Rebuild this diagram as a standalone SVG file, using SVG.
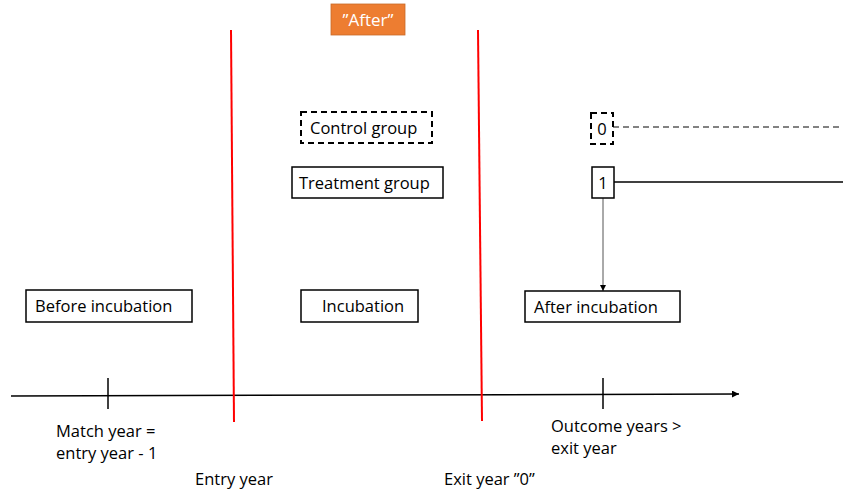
<svg xmlns="http://www.w3.org/2000/svg" width="843" height="496" viewBox="0 0 843 496">
<defs>
<style>
text{font-family:"Open Sans","Noto Sans","Liberation Sans",sans-serif;font-size:16.5px;fill:#000}
.box{fill:#fff;stroke:#000;stroke-width:1.5}
.dash{fill:#fff;stroke:#000;stroke-width:2;stroke-dasharray:6,4}
.red{stroke:#ff0000;stroke-width:2;fill:none}
</style>
<marker id="ah" viewBox="0 0 10 10" refX="10" refY="5" markerWidth="6" markerHeight="6" orient="auto" markerUnits="userSpaceOnUse"><path d="M0,0L10,5L0,10z" fill="#000"/></marker>
<marker id="ah2" viewBox="0 0 10 10" refX="10" refY="5" markerWidth="7" markerHeight="7" orient="auto" markerUnits="userSpaceOnUse"><path d="M0,0L10,5L0,10z" fill="#000"/></marker>
</defs>
<rect width="843" height="496" fill="#fff"/>
<g id="connectors">
<line x1="11" y1="396" x2="739" y2="394" stroke="#000" stroke-width="1.5" marker-end="url(#ah2)"/>
<line x1="108" y1="378" x2="108" y2="409" stroke="#000" stroke-width="1.5"/>
<line x1="603" y1="378" x2="603" y2="409" stroke="#000" stroke-width="1.5"/>
<line class="red" x1="231" y1="30" x2="234" y2="422"/>
<line class="red" x1="478" y1="30" x2="482" y2="421"/>
<line x1="613" y1="127" x2="843" y2="127" stroke="#595959" stroke-width="1.5" stroke-dasharray="6,4"/>
<line x1="614" y1="182" x2="843" y2="182" stroke="#000" stroke-width="1.5"/>
<line x1="603" y1="198" x2="603" y2="291" stroke="#555" stroke-width="1" marker-end="url(#ah)"/>
</g>
<g id="after-label"><rect x="331" y="4" width="74" height="31" fill="#ED7D31" stroke="#c96a28" stroke-width="0.8"/><text x="368" y="26" text-anchor="middle" style="fill:#fff;font-size:17px">”After”</text></g>
<g id="control-group"><rect class="dash" x="301" y="112" width="131" height="31"/><text x="310" y="134">Control group</text></g>
<g id="treatment-group"><rect class="box" x="292" y="167" width="151" height="31"/><text x="299" y="189">Treatment group</text></g>
<g id="zero"><rect class="dash" x="591" y="113" width="22" height="31"/><text x="602" y="135" text-anchor="middle">0</text></g>
<g id="one"><rect class="box" x="592" y="167" width="22" height="31"/><text x="603" y="189" text-anchor="middle">1</text></g>
<g id="before-incubation"><rect class="box" x="26" y="290" width="166" height="32"/><text x="35" y="312">Before incubation</text></g>
<g id="incubation"><rect class="box" x="301" y="290" width="117" height="32"/><text x="322" y="312">Incubation</text></g>
<g id="after-incubation"><rect class="box" x="525" y="291" width="155" height="31"/><text x="534" y="313">After incubation</text></g>
<g id="labels">
<text x="56" y="437">Match year =</text>
<text x="56" y="459">entry year - 1</text>
<text x="195" y="485">Entry year</text>
<text x="551" y="432">Outcome years &gt;</text>
<text x="551" y="454">exit year</text>
<text x="444" y="485">Exit year ”0”</text>
</g>
</svg>
